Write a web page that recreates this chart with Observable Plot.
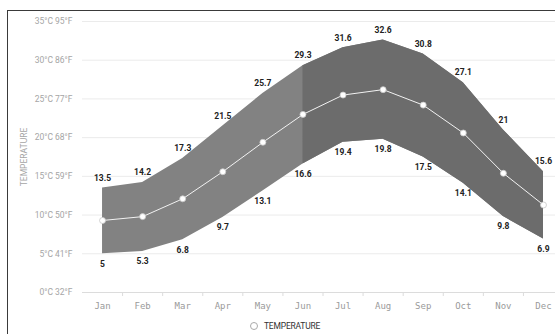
<!DOCTYPE html>
<html>
<head>
<meta charset="utf-8">
<script src="https://cdn.jsdelivr.net/npm/d3@7"></script>
<script src="https://cdn.jsdelivr.net/npm/@observablehq/plot@0.6"></script>
<style>
  html, body { margin: 0; padding: 0; background: #fff; }
  #wrap { position: relative; width: 555px; height: 334px; overflow: hidden; font-family: Roboto, "Noto Sans", sans-serif; }
  #frame { position: absolute; left: 7px; top: 10px; width: 560px; height: 340px; border-left: 1.5px solid #3a3a3a; border-top: 1.5px solid #3a3a3a; pointer-events: none; }
  #legend { position: absolute; left: 250px; top: 321px; font-size: 8.5px; color: #333; letter-spacing: -0.2px; display: flex; align-items: center; }
  #legend .sw { width: 6px; height: 6px; border-radius: 50%; border: 1px solid #aaa; background: #fff; margin-right: 6px; }
  #chart { position: absolute; left: 0; top: 0; }
</style>
</head>
<body>
<div id="wrap">
  <div id="chart"></div>
  <div id="frame"></div>
  <div id="legend"><span class="sw"></span><span>TEMPERATURE</span></div>
</div>
<script>
const months = ["Jan","Feb","Mar","Apr","May","Jun","Jul","Aug","Sep","Oct","Nov","Dec"];
const tMax = [13.5, 14.2, 17.3, 21.5, 25.7, 29.3, 31.6, 32.6, 30.8, 27.1, 21, 15.6];
const tMin = [5, 5.3, 6.8, 9.7, 13.1, 16.6, 19.4, 19.8, 17.5, 14.1, 9.8, 6.9];
const tMean = [9.3, 9.8, 12.1, 15.6, 19.4, 23.0, 25.5, 26.2, 24.2, 20.6, 15.4, 11.3];
const yTicks = [0, 5, 10, 15, 20, 25, 30, 35];
const yTickLabels = ["0°C 32°F", "5°C 41°F", "10°C 50°F", "15°C 59°F", "20°C 68°F", "25°C 77°F", "30°C 86°F", "35°C 95°F"];
const darkFrom = "Jun";

const data = months.map((m, i) => ({i, month: m, max: tMax[i], min: tMin[i], mean: tMean[i]}));
const darkStart = months.indexOf(darkFrom);
const dataDark = data.filter(d => d.i >= darkStart);
const idx = months.map((m, i) => i);
const mids = months.slice(1).map((m, i) => i + 0.5);

const chart = Plot.plot({
  width: 555,
  height: 316,
  marginLeft: 82,
  marginRight: 0,
  marginTop: 21,
  marginBottom: 24,
  style: {fontFamily: "Roboto, sans-serif", fontSize: "9px", background: "transparent"},
  x: {type: "linear", domain: [-0.5, 11.3], label: null},
  y: {domain: [0, 35]},
  marks: [
    Plot.ruleY(yTicks.slice(1), {stroke: "#ebebeb", strokeWidth: 1}),
    Plot.ruleY([0], {stroke: "#dcdcdc", strokeWidth: 1}),
    Plot.areaY(data, {x: "i", y1: "min", y2: "max", fill: "#828282"}),
    Plot.areaY(dataDark, {x: "i", y1: "min", y2: "max", fill: "#6c6c6c"}),
    Plot.line(data, {x: "i", y: "mean", stroke: "#f2f2f2", strokeWidth: 1}),
    Plot.dot(data, {x: "i", y: "mean", r: 3, fill: "#fff", stroke: "#c8c8c8", strokeWidth: 0.8}),
    Plot.text(data, {x: "i", y: "max", text: d => String(d.max), dy: -10, fill: "#222", fontWeight: 700, fontSize: 8.5}),
    Plot.text(data, {x: "i", y: "min", text: d => String(d.min), dy: 10, fill: "#222", fontWeight: 700, fontSize: 8.5}),
    Plot.axisY({ticks: yTicks, tickFormat: d => yTickLabels[yTicks.indexOf(d)], tickSize: 0, tickPadding: 10, color: "#a5a5a5", fontSize: 8.5,
      label: "TEMPERATURE", labelAnchor: "center", labelArrow: "none", labelOffset: 62}),
    Plot.axisX({ticks: mids, tickFormat: () => "", tickSize: 4, stroke: "#dcdcdc", label: null}),
    Plot.axisX({ticks: idx, tickFormat: d => months[d], tickSize: 0, tickPadding: 10, color: "#9a9a9a", fontFamily: "DejaVu Sans Mono, monospace", fontSize: 9, label: null})
  ]
});
document.getElementById("chart").appendChild(chart);
</script>
</body>
</html>
